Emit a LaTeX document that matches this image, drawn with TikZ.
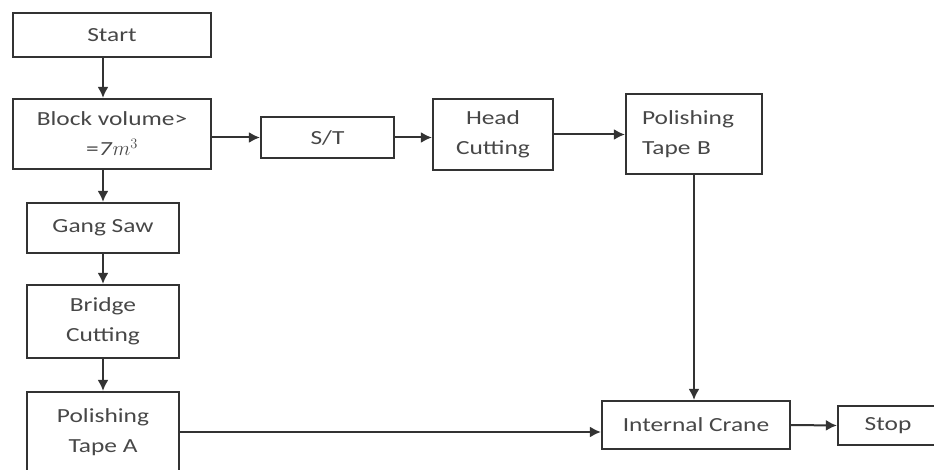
\documentclass[tikz,border=0pt]{standalone}
\usepackage{fontspec}
\setmainfont{Carlito}[FakeStretch=1.27]
\usetikzlibrary{arrows.meta}
\begin{document}
\begin{tikzpicture}[
                x=1pt, y=-1pt,
                every node/.style={rectangle, draw=black!80, line width=2.2pt, align=center,
                    text=black!72, inner sep=0pt,
                    font=\fontsize{20}{30}\selectfont},
                flow/.style={draw=black!80, line width=2pt, -{Latex[length=11pt,width=11pt]}}
                ]
                \useasboundingbox (0,0) rectangle (934,470);
                % Left column
                \node[minimum width=198pt, minimum height=44pt] (start) at (112,35) {Start};
                \node[minimum width=198pt, minimum height=70pt] (block) at (112,134) {Block volume>\\=\textit{7}$m^{3}$};
                \node[minimum width=152pt, minimum height=50pt] (gang) at (103,228) {Gang Saw};
                \node[minimum width=152pt, minimum height=73pt] (bridge) at (103,321.5) {Bridge\\Cutting};
                \node[minimum width=152pt, minimum height=80pt] (tapea) at (103,432) {Polishing\\Tape A};
                % Top row
                \node[minimum width=133pt, minimum height=41pt] (st) at (327.5,137.5) {S/T};
                \node[minimum width=120pt, minimum height=71pt] (head) at (493,134.5) {Head\\Cutting};
                \node[minimum width=136pt, minimum height=80pt, text width=104pt, align=left] (tapeb) at (694,134) {Polishing\\Tape B};
                % Bottom row
                \node[minimum width=188pt, minimum height=48pt] (crane) at (696,425) {Internal Crane};
                \node[minimum width=100pt, minimum height=39pt] (stop) at (888,425.5) {Stop};

                \draw[flow] (start.south -| gang.north) -- (block.north -| gang.north);
                \draw[flow] (block.south -| gang.north) -- (gang.north);
                \draw[flow] (gang) -- (bridge);
                \draw[flow] (bridge) -- (tapea);
                \draw[flow] (block.east |- st.west) -- (st.west);
                \draw[flow] (st.east) -- (head.west |- st.east);
                \draw[flow] (head.east) -- (tapeb.west |- head.east);
                \draw[flow] (tapeb.south) -- (crane.north -| tapeb.south);
                \draw[flow] (tapea.east) -- (tapea.east -| crane.west);
                \draw[flow] (crane.east) -- (stop.west);
            \end{tikzpicture}
\end{document}
